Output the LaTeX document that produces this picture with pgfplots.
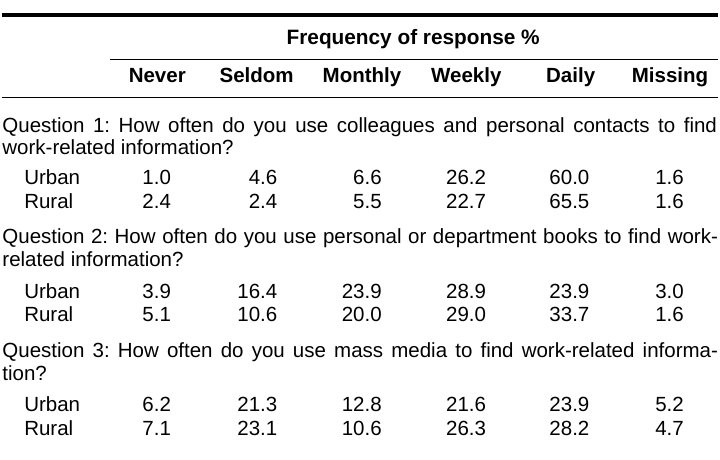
\documentclass[border=0pt]{standalone}
\usepackage{fontspec}
\setmainfont{Liberation Sans}
\usepackage{pgfplots}
\usepackage{pgfplotstable}
\pgfplotsset{compat=1.18}
\frenchspacing

\pgfplotstableread{
row y never seldom monthly weekly daily missing
Urban 186 1.0 4.6 6.6 26.2 60.0 1.6
Rural 210 2.4 2.4 5.5 22.7 65.5 1.6
}\qone
\pgfplotstableread{
row y never seldom monthly weekly daily missing
Urban 300 3.9 16.4 23.9 28.9 23.9 3.0
Rural 324 5.1 10.6 20.0 29.0 33.7 1.6
}\qtwo
\pgfplotstableread{
row y never seldom monthly weekly daily missing
Urban 414 6.2 21.3 12.8 21.6 23.9 5.2
Rural 438 7.1 23.1 10.6 26.3 28.2 4.7
}\qthree

\newcommand\tfont{\fontsize{20.7}{24}\selectfont\frenchspacing}
\newcommand\col[3]{\addplot[only marks, mark size=0pt, mark options={draw=none,fill=none},
  nodes near coords, point meta=explicit symbolic,
  nodes near coords style={anchor=base east, inner sep=0pt, font=\tfont, text=black}]
  table[x expr=#2, y=y, meta=#3] {#1};}
\newcommand\rowlab[1]{\addplot[only marks, mark size=0pt, mark options={draw=none,fill=none},
  nodes near coords, point meta=explicit symbolic,
  nodes near coords style={anchor=base west, inner sep=0pt, font=\tfont, text=black}]
  table[x expr=22, y=y, meta=row] {#1};}

\begin{document}
\begin{tikzpicture}
\begin{axis}[
  width=720bp, height=462bp, scale only axis,
  xmin=0, xmax=720, ymin=0, ymax=462,
  y dir=reverse, axis lines=none, clip=false,
]
\addplot[draw=none] coordinates {(0,0) (720,462)};
% rules
\addplot[black, line width=4.5bp] coordinates {(0,15) (720,15)};
\addplot[black, line width=1bp] coordinates {(108,60) (720,60)};
\addplot[black, line width=1bp] coordinates {(0,98) (720,98)};
% headers
\node[anchor=base, inner sep=0pt, font=\fontsize{21}{24}\selectfont\bfseries] at (axis cs:413.5,45) {Frequency of response \%};
\node[anchor=base, inner sep=0pt, font=\tfont\bfseries] at (axis cs:156,83) {Never};
\node[anchor=base, inner sep=0pt, font=\tfont\bfseries] at (axis cs:256,83) {Seldom};
\node[anchor=base, inner sep=0pt, font=\tfont\bfseries] at (axis cs:362,83) {Monthly};
\node[anchor=base, inner sep=0pt, font=\tfont\bfseries] at (axis cs:467,83) {Weekly};
\node[anchor=base, inner sep=0pt, font=\tfont\bfseries] at (axis cs:572,83) {Daily};
\node[anchor=base, inner sep=0pt, font=\tfont\bfseries] at (axis cs:672,83) {Missing};
% questions
\node[anchor=base west, inner sep=0pt, font=\tfont] at (axis cs:0,133) {\makebox[719bp][s]{Question 1: How often do you use colleagues and personal contacts to find}};
\node[anchor=base west, inner sep=0pt, font=\tfont] at (axis cs:0,155) {work-related information?};
\node[anchor=base west, inner sep=0pt, font=\tfont] at (axis cs:0,245) {\makebox[720bp][s]{Question 2: How often do you use personal or department books to find work-}};
\node[anchor=base west, inner sep=0pt, font=\tfont] at (axis cs:0,268) {related information?};
\node[anchor=base west, inner sep=0pt, font=\tfont] at (axis cs:0,360) {\makebox[720bp][s]{Question 3: How often do you use mass media to find work-related informa-}};
\node[anchor=base west, inner sep=0pt, font=\tfont] at (axis cs:0,383) {tion?};
% row labels
\rowlab{\qone}
\rowlab{\qtwo}
\rowlab{\qthree}
% values
\col{\qone}{170}{never}\col{\qone}{277}{seldom}\col{\qone}{382}{monthly}
\col{\qone}{487}{weekly}\col{\qone}{591}{daily}\col{\qone}{686}{missing}
\col{\qtwo}{170}{never}\col{\qtwo}{277}{seldom}\col{\qtwo}{382}{monthly}
\col{\qtwo}{487}{weekly}\col{\qtwo}{591}{daily}\col{\qtwo}{686}{missing}
\col{\qthree}{170}{never}\col{\qthree}{277}{seldom}\col{\qthree}{382}{monthly}
\col{\qthree}{487}{weekly}\col{\qthree}{591}{daily}\col{\qthree}{686}{missing}
\end{axis}
\end{tikzpicture}
\end{document}
